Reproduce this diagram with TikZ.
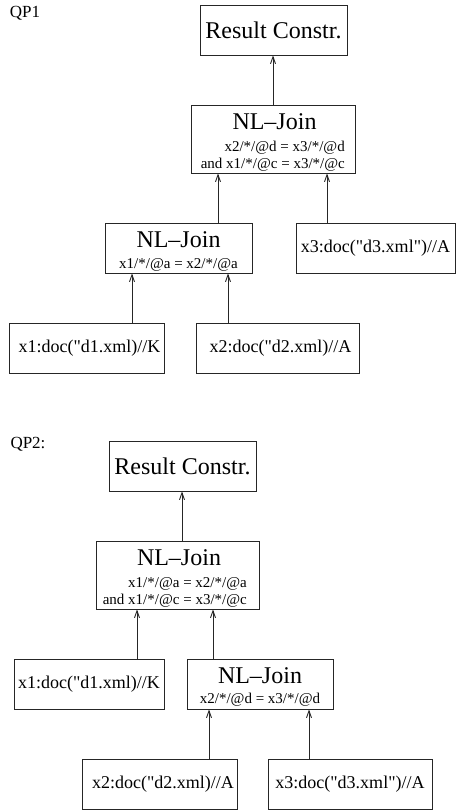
\documentclass[tikz,border=0pt]{standalone}
\usepackage{fontspec}
\setmainfont{Liberation Serif}[Ligatures=TeXOff]
\usetikzlibrary{arrows.meta}
\begin{document}
\begin{tikzpicture}[x=1pt,y=-1pt,
  box/.style={draw=black!85,line width=0.9pt,inner sep=0pt,minimum height=50pt},
  big/.style={inner sep=0pt,font=\fontsize{24}{28}\selectfont},
  leaf/.style={inner sep=0pt,font=\fontsize{18}{21}\selectfont},
  cond/.style={inner sep=0pt,align=right,font=\fontsize{15}{17}\selectfont},
  lbl/.style={inner sep=0pt,font=\fontsize{17}{20}\selectfont},
  arr/.style={draw=black!85,line width=0.9pt,-{Straight Barb[length=7pt,width=5pt]}}]
\useasboundingbox (0,0) rectangle (456,812);
% ---------- QP1
\node[lbl] (qp1) at (25,13) {QP1};
\node[box,minimum width=147pt] (r1) at (273.5,30) {};
\node[big] (r1t) at (273.5,30) {Result Constr.};
\node[box,minimum width=164pt,minimum height=68pt] (j1) at (273,139) {};
\node[big] (j1t) at (274.5,122) {NL–Join};
\node[cond,anchor=east] (j1c) at (345,156) {x2/*/@d = x3/*/@d\\and x1/*/@c = x3/*/@c};
\node[box,minimum width=147pt] (j2) at (178.5,248) {};
\node[big] (j2t) at (178.5,240) {NL–Join};
\node[cond] (j2c) at (178.5,265) {x1/*/@a = x2/*/@a};
\node[box,minimum width=159pt] (a3) at (375.5,248) {};
\node[leaf] (a3t) at (375.5,248) {x3:doc("d3.xml")//A};
\node[box,minimum width=155pt] (a1) at (86.5,348) {};
\node[leaf] (a1t) at (89.5,348) {x1:doc("d1.xml)//K};
\node[box,minimum width=163pt] (a2) at (277.5,348) {};
\node[leaf] (a2t) at (280.5,348) {x2:doc("d2.xml)//A};
\coordinate (p1) at (273,0);
\coordinate (p2) at (218,0);
\coordinate (p3) at (327,0);
\coordinate (p4) at (132,0);
\coordinate (p5) at (228,0);
\draw[arr] (j1.north -| p1) -- (r1.south -| p1);
\draw[arr] (j2.north -| p2) -- (j1.south -| p2);
\draw[arr] (a3.north -| p3) -- (j1.south -| p3);
\draw[arr] (a1.north -| p4) -- (j2.south -| p4);
\draw[arr] (a2.north -| p5) -- (j2.south -| p5);
% ---------- QP2
\node[lbl] (qp2) at (28,444) {QP2:};
\node[box,minimum width=147pt] (r2) at (182.5,466) {};
\node[big] (r2t) at (182.5,466) {Result Constr.};
\node[box,minimum width=163pt,minimum height=68pt] (j3) at (177.5,575) {};
\node[big] (j3t) at (179,558) {NL–Join};
\node[cond,anchor=east] (j3c) at (247,592) {x1/*/@a = x2/*/@a\\and x1/*/@c = x3/*/@c};
\node[box,minimum width=150pt] (b1) at (89,684) {};
\node[leaf] (b1t) at (89,684) {x1:doc("d1.xml)//K};
\node[box,minimum width=146pt] (j4) at (260,684) {};
\node[big] (j4t) at (260,676) {NL–Join};
\node[cond] (j4c) at (260,700) {x2/*/@d = x3/*/@d};
\node[box,minimum width=155pt] (b2) at (159.5,784) {};
\node[leaf] (b2t) at (163,784) {x2:doc("d2.xml)//A};
\node[box,minimum width=164pt] (b3) at (350,784) {};
\node[leaf] (b3t) at (350,784) {x3:doc("d3.xml")//A};
\coordinate (q1) at (182,0);
\coordinate (q2) at (137,0);
\coordinate (q3) at (213,0);
\coordinate (q4) at (209,0);
\coordinate (q5) at (309,0);
\draw[arr] (j3.north -| q1) -- (r2.south -| q1);
\draw[arr] (b1.north -| q2) -- (j3.south -| q2);
\draw[arr] (j4.north -| q3) -- (j3.south -| q3);
\draw[arr] (b2.north -| q4) -- (j4.south -| q4);
\draw[arr] (b3.north -| q5) -- (j4.south -| q5);
\end{tikzpicture}
\end{document}
